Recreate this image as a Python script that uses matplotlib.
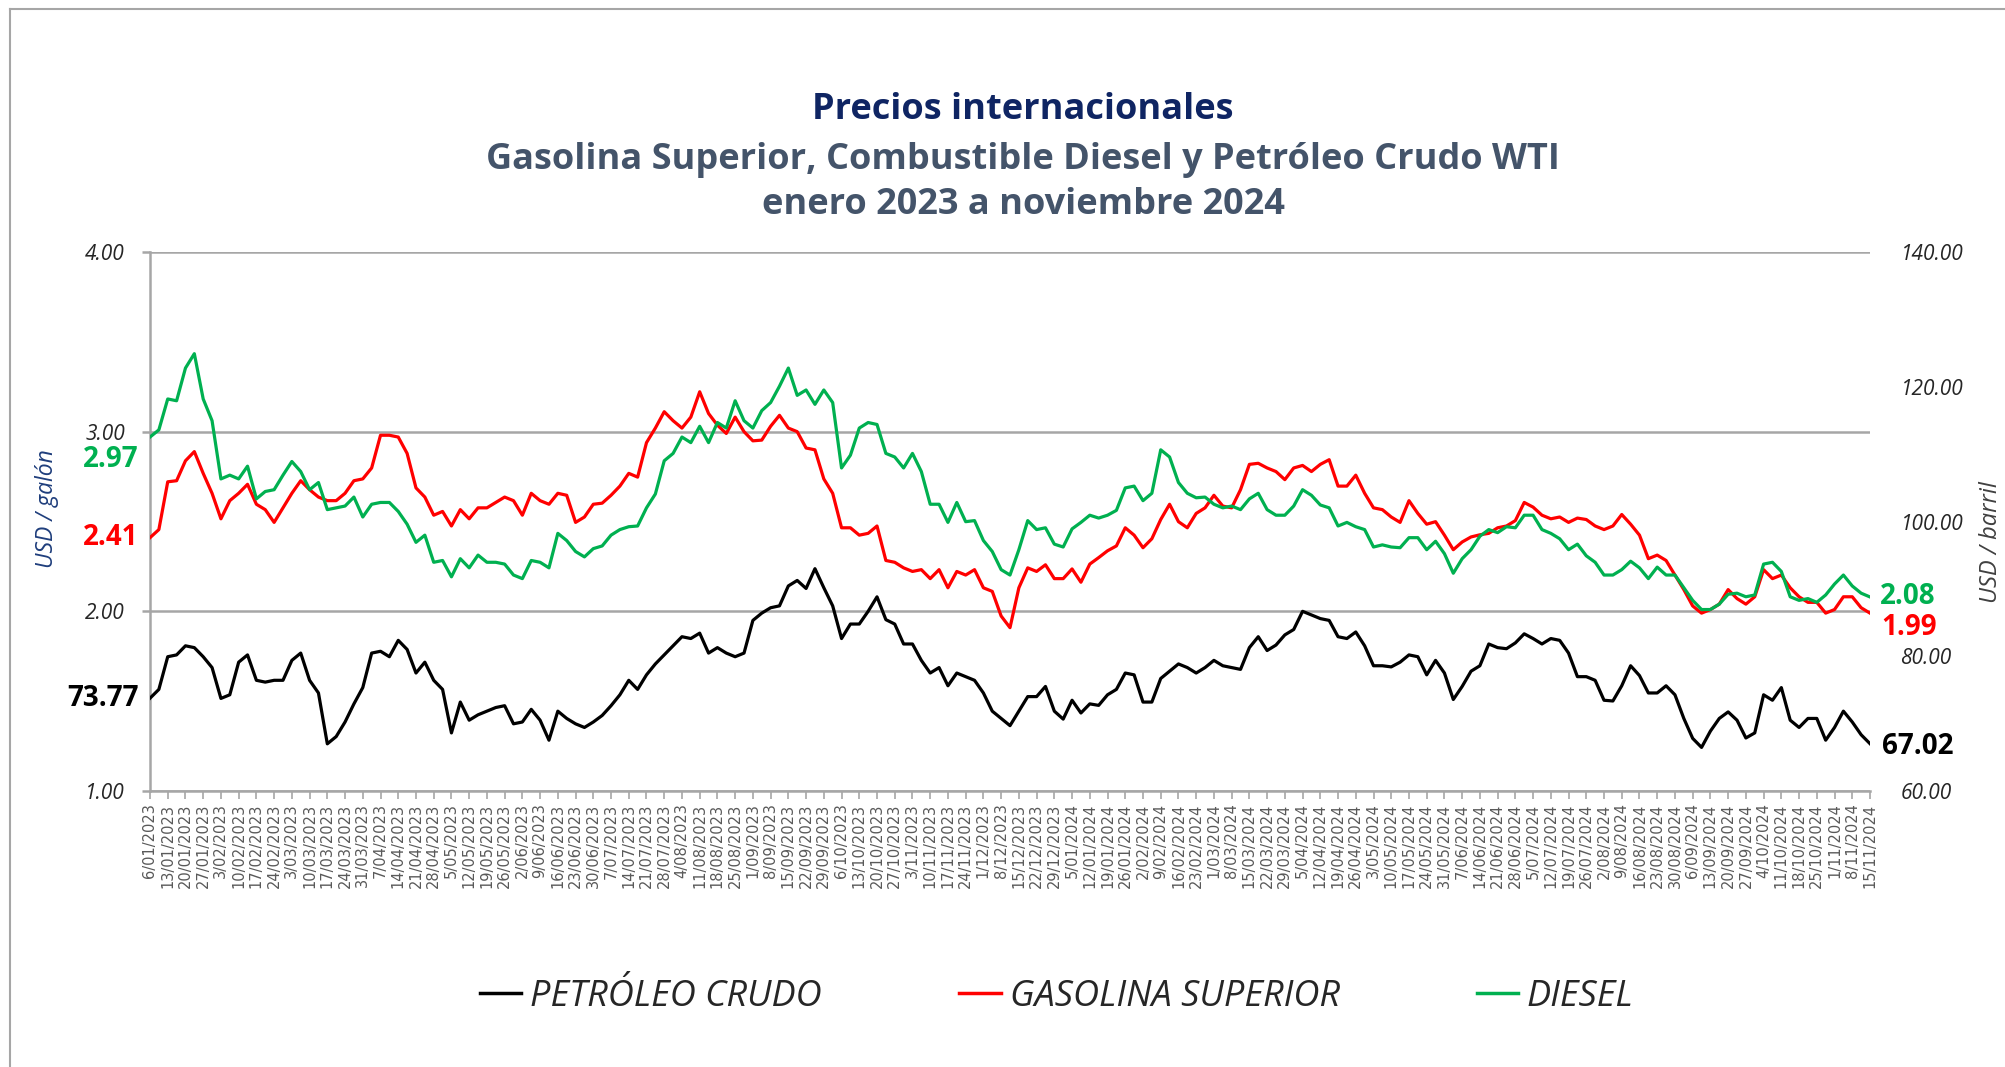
import matplotlib
matplotlib.use("Agg")
import matplotlib.pyplot as plt
from matplotlib.lines import Line2D
import numpy as np
import pandas as pd

# sample dates: every Friday (labelled ticks) plus the Tuesday after it
fridays = pd.date_range("2023-01-06", "2024-11-15", freq="7D")
dates = []
for d in fridays[:-1]:
    dates += [d, d + pd.Timedelta(days=4)]
dates.append(fridays[-1])

# USD / galón
diesel = [
    2.97, 3.010, 3.182, 3.172, 3.354, 3.434, 3.182, 3.061, 2.737, 2.758,
    2.737, 2.808, 2.626, 2.667, 2.677, 2.758, 2.834, 2.778, 2.677, 2.717,
    2.566, 2.576, 2.586, 2.636, 2.525, 2.596, 2.606, 2.606, 2.556, 2.485,
    2.384, 2.424, 2.273, 2.283, 2.192, 2.293, 2.242, 2.313, 2.273, 2.273,
    2.263, 2.202, 2.182, 2.283, 2.273, 2.242, 2.434, 2.394, 2.333, 2.303,
    2.349, 2.364, 2.424, 2.455, 2.471, 2.475, 2.576, 2.653, 2.838, 2.879,
    2.970, 2.939, 3.030, 2.939, 3.051, 3.020, 3.172, 3.061, 3.020, 3.117,
    3.162, 3.253, 3.354, 3.202, 3.232, 3.152, 3.232, 3.162, 2.798, 2.869,
    3.020, 3.051, 3.040, 2.879, 2.859, 2.798, 2.879, 2.778, 2.596, 2.596,
    2.495, 2.606, 2.499, 2.505, 2.394, 2.333, 2.232, 2.202, 2.343, 2.505,
    2.455, 2.465, 2.374, 2.358, 2.459, 2.495, 2.535, 2.519, 2.535, 2.562,
    2.687, 2.697, 2.616, 2.657, 2.899, 2.859, 2.717, 2.657, 2.632, 2.636,
    2.596, 2.576, 2.586, 2.566, 2.626, 2.657, 2.566, 2.535, 2.535, 2.586,
    2.677, 2.646, 2.592, 2.576, 2.475, 2.495, 2.471, 2.455, 2.358, 2.370,
    2.358, 2.354, 2.410, 2.410, 2.343, 2.390, 2.321, 2.212, 2.293, 2.343,
    2.418, 2.455, 2.438, 2.471, 2.465, 2.535, 2.535, 2.455, 2.434, 2.404,
    2.343, 2.374, 2.309, 2.273, 2.202, 2.202, 2.232, 2.279, 2.242, 2.182,
    2.246, 2.202, 2.202, 2.131, 2.061, 2.010, 2.010, 2.040, 2.095, 2.101,
    2.081, 2.091, 2.263, 2.273, 2.222, 2.081, 2.061, 2.071, 2.050, 2.091,
    2.152, 2.202, 2.141, 2.101, 2.08,
]
gasolina = [
    2.41, 2.455, 2.721, 2.727, 2.838, 2.889, 2.768, 2.657, 2.515, 2.616,
    2.657, 2.707, 2.596, 2.566, 2.495, 2.576, 2.657, 2.727, 2.677, 2.636,
    2.616, 2.616, 2.657, 2.727, 2.737, 2.798, 2.980, 2.980, 2.970, 2.879,
    2.687, 2.636, 2.535, 2.556, 2.475, 2.566, 2.515, 2.576, 2.576, 2.606,
    2.636, 2.616, 2.535, 2.657, 2.616, 2.596, 2.657, 2.646, 2.495, 2.525,
    2.596, 2.602, 2.646, 2.697, 2.768, 2.747, 2.939, 3.020, 3.111, 3.061,
    3.020, 3.081, 3.222, 3.101, 3.036, 2.990, 3.081, 3.000, 2.949, 2.953,
    3.030, 3.091, 3.020, 3.000, 2.909, 2.899, 2.737, 2.657, 2.465, 2.465,
    2.424, 2.434, 2.475, 2.283, 2.273, 2.242, 2.222, 2.232, 2.182, 2.232,
    2.131, 2.222, 2.202, 2.232, 2.131, 2.111, 1.974, 1.909, 2.131, 2.242,
    2.222, 2.259, 2.182, 2.182, 2.236, 2.162, 2.263, 2.299, 2.337, 2.364,
    2.465, 2.424, 2.354, 2.404, 2.511, 2.596, 2.499, 2.465, 2.545, 2.576,
    2.646, 2.586, 2.576, 2.677, 2.818, 2.824, 2.798, 2.778, 2.733, 2.798,
    2.812, 2.778, 2.818, 2.844, 2.697, 2.697, 2.758, 2.657, 2.576, 2.566,
    2.525, 2.495, 2.616, 2.545, 2.485, 2.499, 2.424, 2.343, 2.386, 2.414,
    2.426, 2.434, 2.465, 2.475, 2.505, 2.606, 2.580, 2.535, 2.515, 2.525,
    2.495, 2.519, 2.511, 2.475, 2.455, 2.475, 2.539, 2.485, 2.424, 2.293,
    2.313, 2.283, 2.202, 2.121, 2.030, 1.990, 2.010, 2.040, 2.121, 2.071,
    2.040, 2.081, 2.232, 2.182, 2.202, 2.131, 2.081, 2.050, 2.050, 1.990,
    2.010, 2.081, 2.081, 2.020, 1.99,
]
# USD / barril
crudo = [
    73.77, 75.08, 79.93, 80.20, 81.55, 81.28, 79.93, 78.32, 73.74, 74.28,
    79.12, 80.20, 76.43, 76.16, 76.43, 76.43, 79.39, 80.47, 76.43, 74.55,
    67.00, 68.08, 70.24, 72.93, 75.35, 80.47, 80.74, 79.93, 82.36, 81.01,
    77.51, 79.12, 76.43, 75.08, 68.62, 73.20, 70.51, 71.31, 71.85, 72.39,
    72.66, 69.97, 70.24, 72.12, 70.51, 67.54, 71.85, 70.77, 69.97, 69.43,
    70.24, 71.21, 72.66, 74.28, 76.43, 75.08, 77.24, 78.86, 80.20, 81.55,
    82.90, 82.63, 83.43, 80.47, 81.28, 80.47, 79.93, 80.47, 85.32, 86.40,
    87.20, 87.48, 90.44, 91.25, 90.06, 93.00, 90.17, 87.48, 82.63, 84.78,
    84.78, 86.67, 88.82, 85.43, 84.78, 81.82, 81.82, 79.39, 77.51, 78.32,
    75.62, 77.51, 76.97, 76.43, 74.55, 71.85, 70.77, 69.70, 71.85, 74.01,
    74.01, 75.52, 71.85, 70.67, 73.47, 71.58, 72.93, 72.71, 74.28, 75.08,
    77.51, 77.24, 73.20, 73.20, 76.70, 77.78, 78.86, 78.32, 77.51, 78.32,
    79.39, 78.59, 78.32, 78.05, 81.28, 82.90, 80.85, 81.66, 83.17, 83.97,
    86.67, 86.13, 85.59, 85.32, 82.90, 82.63, 83.60, 81.55, 78.59, 78.59,
    78.42, 79.12, 80.20, 79.93, 77.24, 79.39, 77.51, 73.58, 75.52, 77.78,
    78.59, 81.82, 81.28, 81.12, 81.98, 83.33, 82.63, 81.82, 82.63, 82.36,
    80.47, 76.97, 76.97, 76.43, 73.47, 73.36, 75.62, 78.59, 77.13, 74.55,
    74.55, 75.62, 74.28, 70.77, 67.81, 66.47, 68.89, 70.77, 71.74, 70.51,
    67.87, 68.62, 74.28, 73.47, 75.35, 70.51, 69.43, 70.77, 70.77, 67.54,
    69.43, 71.85, 70.24, 68.35, 67.02,
]

tick_labels = [f"{d.day}/{d.month:02d}/{d.year}" for d in fridays]

BLACK, RED, GREEN = "#000000", "#FF0000", "#00B050"
GRID = "#A6A6A6"
W, H = 2006, 1067
HEAD = ["Open Sans", "DejaVu Sans"]

plt.rcParams["font.family"] = ["Lato", "DejaVu Sans"]

fig = plt.figure(figsize=(W / 100, H / 100), dpi=100)
ax = fig.add_axes([150 / W, 1 - 791 / H, (1870 - 150) / W, (791 - 252) / H])
ax2 = ax.twinx()

x = np.arange(len(dates))
ax.plot(x, gasolina, color=RED, lw=2.3, zorder=3)
ax.plot(x, diesel, color=GREEN, lw=2.3, zorder=4)
ax2.plot(x, crudo, color=BLACK, lw=2.3)

ax.set_xlim(0, len(dates) - 1)
ax.set_ylim(1, 4)
ax2.set_ylim(60, 140)
ax.set_yticks([1, 2, 3, 4])
ax.set_yticklabels([f"{v:.2f}" for v in [1, 2, 3, 4]])
ax2.set_yticks([60, 80, 100, 120, 140])
ax2.set_yticklabels([f"{v:.2f}" for v in [60, 80, 100, 120, 140]])
ax.grid(axis="y", color=GRID, lw=1.8)
ax.set_axisbelow(True)

ax.set_xticks(x[::2])
ax.set_xticklabels(tick_labels, rotation=90, fontsize=10.5, color="#595959",
                   family="DejaVu Sans")

for s in ["top", "right"]:
    ax.spines[s].set_visible(False)
for s in ["top", "right", "left", "bottom"]:
    ax2.spines[s].set_visible(False)
ax.spines["left"].set_color(GRID)
ax.spines["bottom"].set_color(GRID)
ax.spines["left"].set_linewidth(1.8)
ax.spines["bottom"].set_linewidth(1.8)
ax.tick_params(axis="y", length=6, width=1.8, color=GRID, pad=12,
               labelsize=15, labelcolor="#262626")
ax.tick_params(axis="x", length=6, width=1.2, color=GRID, pad=3)
ax2.tick_params(axis="y", length=0, pad=22, labelsize=15, labelcolor="#262626")
for lab in ax.get_yticklabels() + ax2.get_yticklabels():
    lab.set_style("italic")
    lab.set_family(HEAD)

# titles
fig.text(0.51, 1 - 110 / H, "Precios internacionales", ha="center", va="center",
         fontsize=26, fontweight="bold", color="#0F2563", family=HEAD)
fig.text(0.51, 1 - 160 / H, "Gasolina Superior, Combustible Diesel y Petróleo Crudo WTI",
         ha="center", va="center", fontsize=26, fontweight="bold", color="#44546A",
         family=HEAD)
fig.text(0.51, 1 - 205 / H, "enero 2023 a noviembre 2024", ha="center", va="center",
         fontsize=26, fontweight="bold", color="#44546A", family=HEAD)

# axis titles
fig.text(47 / W, 1 - 509 / H, "USD / galón", rotation=90, ha="center", va="center",
         fontsize=16.5, style="italic", color="#1F3E7C", family=HEAD)
fig.text(1991 / W, 1 - 542 / H, "USD / barril", rotation=90, ha="center", va="center",
         fontsize=17, style="italic", color="#404040", family=HEAD)

# first / last value labels
lab_kw = dict(textcoords="offset points", va="center", fontsize=20,
              fontweight="bold", family=HEAD)
ax.annotate(f"{diesel[0]:.2f}", (x[0], diesel[0]), xytext=(-8, -16),
            ha="right", color=GREEN, **lab_kw)
ax.annotate(f"{gasolina[0]:.2f}", (x[0], gasolina[0]), xytext=(-8, 0),
            ha="right", color=RED, **lab_kw)
ax2.annotate(f"{crudo[0]:.2f}", (x[0], crudo[0]), xytext=(-8, 0),
             ha="right", color=BLACK, **lab_kw)
ax.annotate(f"{diesel[-1]:.2f}", (x[-1], diesel[-1]), xytext=(7, 0),
            ha="left", color=GREEN, **lab_kw)
ax.annotate(f"{gasolina[-1]:.2f}", (x[-1], gasolina[-1]), xytext=(8, -10),
            ha="left", color=RED, **lab_kw)
ax2.annotate(f"{crudo[-1]:.2f}", (x[-1], crudo[-1]), xytext=(9, -2),
             ha="left", color=BLACK, **lab_kw)

handles = [Line2D([], [], color=BLACK, lw=2.5), Line2D([], [], color=RED, lw=2.5),
           Line2D([], [], color=GREEN, lw=2.5)]
leg = fig.legend(handles, ["PETRÓLEO CRUDO", "GASOLINA SUPERIOR", "DIESEL"], ncol=3,
                 loc="center", bbox_to_anchor=(1057 / W, 1 - 997 / H), frameon=False,
                 handlelength=1.14, handletextpad=0.25, columnspacing=3.8,
                 prop={"size": 26, "style": "italic", "family": HEAD})
for t in leg.get_texts():
    t.set_color("#262626")

# outer frame (top and left edges visible)
fig.add_artist(Line2D([10 / W, 1], [1 - 9 / H, 1 - 9 / H], color=GRID, lw=1.5))
fig.add_artist(Line2D([10 / W, 10 / W], [0, 1 - 9 / H], color=GRID, lw=1.5))

fig.savefig("out.png", dpi=100)
